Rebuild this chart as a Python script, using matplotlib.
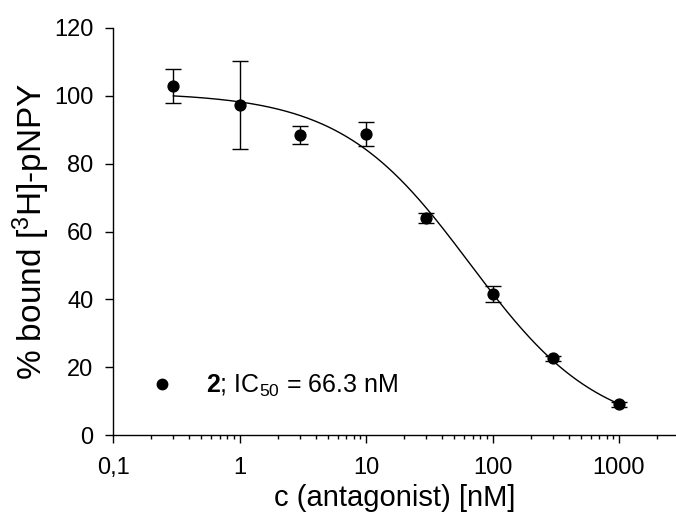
import numpy as np
import matplotlib
matplotlib.use("Agg")
import matplotlib.pyplot as plt
from matplotlib.ticker import FixedLocator, FixedFormatter, LogLocator, NullFormatter

plt.rcParams['font.family'] = ['Liberation Sans', 'DejaVu Sans']
plt.rcParams['mathtext.fontset'] = 'custom'
plt.rcParams['mathtext.rm'] = 'Liberation Sans'
plt.rcParams['mathtext.it'] = 'Liberation Sans:italic'
plt.rcParams['mathtext.bf'] = 'Liberation Sans:bold'

# data
conc = [0.3, 1, 3, 10, 30, 100, 300, 1000]
bound = [103.0, 97.2, 88.4, 88.7, 64.0, 41.6, 22.6, 9.0]
err = [5.0, 13.0, 2.7, 3.5, 1.4, 2.4, 0.8, 0.8]

# fitted 4-parameter logistic
top, bottom, ic50, hill = 101.0, 0.0, 66.3, 0.85

xticks = [0.1, 1, 10, 100, 1000]
xticklabels = ['0,1', '1', '10', '100', '1000']
yticks = [0, 20, 40, 60, 80, 100, 120]

fig = plt.figure(figsize=(6.76, 5.12), dpi=100)
W, H = 676, 512
x0, x1 = 113, 676
y0, y1 = 435, 28
ax = fig.add_axes([x0 / W, (H - y0) / H, (x1 - x0) / W, (y0 - y1) / H])

xmax = 10 ** (-1 + (x1 - x0) / 126.5)
xc = np.logspace(np.log10(0.3), np.log10(1000), 300)
yc = bottom + (top - bottom) / (1 + (xc / ic50) ** hill)
ax.plot(xc, yc, color='black', lw=1.0)

ax.errorbar(conc, bound, yerr=err, fmt='o', color='black', ms=7.8,
            elinewidth=1.0, capsize=6, capthick=1.0, ecolor='black', zorder=3)

ax.set_xscale('log')
ax.set_xlim(0.1, xmax)
ax.set_ylim(0, 120)
ax.xaxis.set_major_locator(FixedLocator(xticks))
ax.xaxis.set_major_formatter(FixedFormatter(xticklabels))
ax.xaxis.set_minor_locator(LogLocator(base=10, subs=np.arange(2, 10)))
ax.xaxis.set_minor_formatter(NullFormatter())
ax.set_yticks(yticks)

for s in ['top', 'right']:
    ax.spines[s].set_visible(False)
for s in ['left', 'bottom']:
    ax.spines[s].set_linewidth(1.0)

ax.tick_params(axis='both', which='major', direction='out', length=6, width=1.0,
               labelsize=17)
ax.tick_params(axis='x', which='major', pad=9.5)
ax.tick_params(axis='y', which='major', pad=8)
ax.tick_params(axis='x', which='minor', direction='out', length=3, width=1.0)

ax.set_xlabel('c (antagonist) [nM]', fontsize=21, labelpad=4)
ax.set_ylabel(r'% bound [$^{3}$H]-pNPY', fontsize=24, labelpad=1.5)

h, = ax.plot([], [], 'o', color='black', ms=7.5)
leg = ax.legend([h], [r'$\mathbf{2}$; IC$_{50}$ = 66.3 nM'], loc='center left',
                bbox_to_anchor=(0.066, 0.12), frameon=False, fontsize=18,
                handlelength=0.93, handletextpad=1.3, borderpad=0,
                borderaxespad=0)

fig.savefig('out.png', dpi=100)
